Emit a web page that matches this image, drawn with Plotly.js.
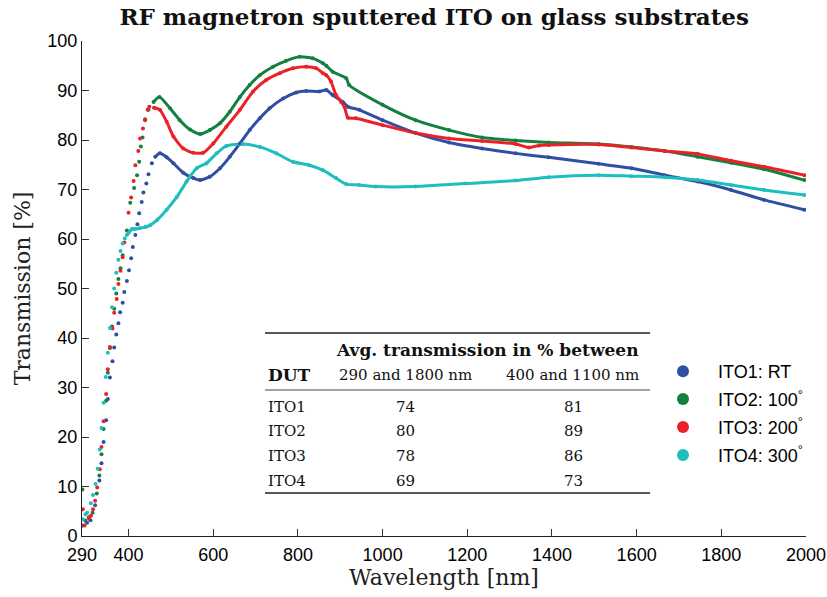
<!DOCTYPE html>
<html>
<head>
<meta charset="utf-8">
<script src="https://cdn.plot.ly/plotly-3.0.1.min.js"></script>
<style>html,body{margin:0;padding:0;background:#fff;}#chart{width:827px;height:597px;}</style>
</head>
<body>
<div id="chart"></div>
<script>
// ---- data ----
const seriesNames = ['ITO1: RT', 'ITO2: 100<sup>°</sup>', 'ITO3: 200<sup>°</sup>', 'ITO4: 300<sup>°</sup>'];

const wlITO1 = [292,302,310,321,331,336,341,347,351,356,362,366,371,376,380,386,390,396,401,406,410,416,421,425,431,435,442,447,455,463,474,490,506,529,553,569,592,616,639,663,686,710,733,765,796,820,851,867,882,906,918,945,1000,1078,1157,1235,1314,1392,1510,1588,1666,1744,1823,1901,1996];
const trITO1 = [2.1,2.7,3.2,6.2,11.2,14.7,19.0,23.4,27.7,32.0,35.3,38.1,40.7,43.0,45.2,47.1,49.3,51.5,53.7,56.1,58.4,60.8,63.0,65.2,67.5,69.4,71.2,73.1,75.3,76.6,77.3,76.5,75.3,73.4,72.3,71.9,72.6,74.3,76.6,79.3,82.0,84.4,86.4,88.4,89.6,89.9,89.8,90.1,89.1,87.7,86.7,86.1,84.0,81.4,79.5,78.3,77.3,76.5,75.2,74.3,72.9,71.6,69.9,67.9,65.9];

const wlITO2 = [291,298,306,315,325,331,336,341,347,351,356,361,366,371,376,381,386,396,404,413,420,425,429,433,439,447,459,473,498,521,545,569,592,616,639,663,686,710,741,772,804,835,859,867,882,914,921,1000,1078,1157,1235,1314,1392,1510,1588,1666,1744,1823,1901,1996];
const trITO2 = [9.4,3.1,3.8,4.7,8.6,12.2,16.5,21.6,27.3,33.0,38.0,42.3,45.9,49.0,51.9,54.1,56.7,61.7,67.3,70.3,72.9,75.6,78.7,80.5,84.0,86.1,87.7,88.7,86.4,84.0,82.1,81.2,82.0,83.4,85.7,88.7,91.1,93.1,94.8,96.0,96.8,96.5,95.5,95.0,93.8,92.5,91.1,87.1,84.0,82.0,80.5,79.9,79.5,79.2,78.6,77.8,76.6,75.4,74.1,71.9];

const wlITO3 = [292,296,306,311,316,321,326,332,336,341,347,351,356,362,366,372,376,381,386,390,400,406,412,416,423,427,434,439,445,449,460,474,490,506,529,553,576,600,631,663,694,725,757,788,820,843,859,867,878,890,902,910,918,937,1000,1078,1157,1235,1314,1345,1370,1392,1510,1588,1666,1744,1823,1901,1996];
const trITO3 = [5.4,2.1,3.6,4.1,5.4,7.1,9.8,13.5,18.0,23.2,28.7,33.7,38.2,41.9,45.1,47.9,50.9,53.6,56.3,59.3,65.3,68.4,71.7,74.9,77.8,80.3,82.3,84.2,86.1,86.7,86.5,86.1,83.7,80.7,78.3,77.4,77.4,79.3,82.7,86.1,89.8,92.1,93.5,94.5,94.8,94.5,93.5,93.1,91.8,89.1,87.7,86.7,84.5,84.4,83.0,81.4,80.3,79.8,79.2,78.5,78.9,79.0,79.1,78.5,77.8,77.2,75.8,74.6,72.9];

const wlITO4 = [292,298,302,311,316,322,327,332,336,341,346,351,356,361,366,371,376,381,386,391,396,400,408,415,427,440,451,467,490,514,537,561,584,608,631,670,710,749,788,827,859,890,914,945,984,1078,1196,1314,1392,1510,1588,1666,1744,1823,1901,1996];
const trITO4 = [3.4,4.4,4.7,6.6,8.3,10.5,13.6,17.5,21.8,26.9,32.1,37.0,42.0,46.2,50.0,53.2,55.8,57.6,59.1,60.1,60.8,61.2,62.0,62.0,62.2,62.4,62.8,63.8,65.9,68.5,71.6,74.3,75.3,77.3,78.8,79.2,78.6,77.3,75.6,74.9,73.9,72.3,71.1,70.9,70.6,70.6,71.2,71.8,72.5,72.9,72.7,72.5,71.9,70.9,69.9,68.9];

const xTickVals = [290,400,600,800,1000,1200,1400,1600,1800,2000];
const xTickText = ['290','400','600','800','1000','1200','1400','1600','1800','2000'];

// table content
const tableDUT = ['ITO1','ITO2','ITO3','ITO4'];
const avg290to1800 = [74,80,78,69];
const avg400to1100 = [81,89,86,73];

// ---- styling ----
const colors = ['#2f4fa2','#13803f','#ec2027','#1ebebe'];
const lineStart = [460, 455, 450, 398];   // where the dotted UV part turns into a dense band
const W = [wlITO1, wlITO2, wlITO3, wlITO4];
const T = [trITO1, trITO2, trITO3, trITO4];

const traces = [];
for (let i = 0; i < 4; i++) {
  const lx = [], ly = [];
  W[i].forEach((x, k) => { if (x >= lineStart[i]) { lx.push(x); ly.push(T[i][k]); } });
  traces.push({x: lx, y: ly, type: 'scatter', mode: 'lines', showlegend: false, hoverinfo: 'skip',
    line: {color: colors[i], width: 3, shape: 'spline', smoothing: 0.6}});
}
for (let i = 0; i < 4; i++) {
  traces.push({x: W[i], y: T[i], type: 'scatter', mode: 'markers', name: seriesNames[i],
    legendgroup: 'g' + i, marker: {color: colors[i], size: 4}});
}

// plot area in pixels: x 82..806, y 41..536
const L = 82, R = 806, TOP = 41, BOT = 536;
const px = v => (v - L) / (R - L);
const py = v => (BOT - v) / (BOT - TOP);

const serif = 'DejaVu Serif';
const tfont = {family: serif, size: 15, color: '#111'};
const bfont = {family: serif, size: 17, color: '#111'};
const ann = [];
ann.push({text: '<b>Avg. transmission in % between</b>', x: px(488), y: py(350), xanchor: 'center', yanchor: 'middle', font: bfont});
ann.push({text: '<b>DUT</b>', x: px(266), y: py(375), xanchor: 'left', yanchor: 'middle', font: bfont});
ann.push({text: '290 and 1800 nm', x: px(405), y: py(375), xanchor: 'center', yanchor: 'middle', font: tfont});
ann.push({text: '400 and 1100 nm', x: px(572), y: py(375), xanchor: 'center', yanchor: 'middle', font: tfont});
const rowY = [407, 431, 456, 481];
for (let r = 0; r < 4; r++) {
  ann.push({text: tableDUT[r], x: px(266), y: py(rowY[r]), xanchor: 'left', yanchor: 'middle', font: tfont});
  ann.push({text: String(avg290to1800[r]), x: px(405), y: py(rowY[r]), xanchor: 'center', yanchor: 'middle', font: tfont});
  ann.push({text: String(avg400to1100[r]), x: px(573), y: py(rowY[r]), xanchor: 'center', yanchor: 'middle', font: tfont});
}
ann.forEach(a => { a.xref = 'paper'; a.yref = 'paper'; a.showarrow = false; });

const shapes = [
  {type: 'line', xref: 'paper', yref: 'paper', x0: px(265), x1: px(650), y0: py(333), y1: py(333), line: {color: '#222', width: 1.6}},
  {type: 'line', xref: 'paper', yref: 'paper', x0: px(265), x1: px(650), y0: py(390), y1: py(390), line: {color: '#444', width: 1}},
  {type: 'line', xref: 'paper', yref: 'paper', x0: px(265), x1: px(650), y0: py(493), y1: py(493), line: {color: '#222', width: 1.6}}
];

const layout = {
  width: 827, height: 597,
  margin: {l: L, r: 827 - R, t: TOP, b: 597 - BOT},
  paper_bgcolor: '#fff', plot_bgcolor: '#fff',
  title: {text: '<b>RF magnetron sputtered ITO on glass substrates</b>', font: {family: serif, size: 23, color: '#111'},
          x: 0.525, xanchor: 'center', y: 0.971, yanchor: 'middle', xref: 'container', yref: 'container'},
  xaxis: {range: [289.999, 2000.001], tickmode: 'array', tickvals: xTickVals, ticktext: xTickText,
    ticks: 'inside', ticklen: 7, tickcolor: '#333', showline: true, linecolor: '#222', linewidth: 1,
    showgrid: false, zeroline: false, tickfont: {family: 'Liberation Sans', size: 18, color: '#000'}, ticklabelstandoff: 2,
    title: {text: 'Wavelength [nm]', font: {family: serif, size: 22, color: '#222'}, standoff: 6}},
  yaxis: {range: [0, 100], dtick: 10, ticks: 'inside', ticklen: 7, tickcolor: '#333', showline: true, linecolor: '#222', linewidth: 1,
    showgrid: false, zeroline: false, tickfont: {family: 'Liberation Sans', size: 18, color: '#000'},
    title: {text: 'Transmission [%]', font: {family: serif, size: 22, color: '#222'}, standoff: 10}},
  legend: {x: px(648), y: py(353), xanchor: 'left', yanchor: 'top', bgcolor: 'rgba(0,0,0,0)',
    font: {family: 'Liberation Sans', size: 18, color: '#000'}, itemsizing: 'constant', itemwidth: 60,
    traceorder: 'grouped', tracegroupgap: 1.5},
  annotations: ann,
  shapes: shapes
};

Plotly.newPlot('chart', traces, layout, {displayModeBar: false, staticPlot: true});
</script>
</body>
</html>
